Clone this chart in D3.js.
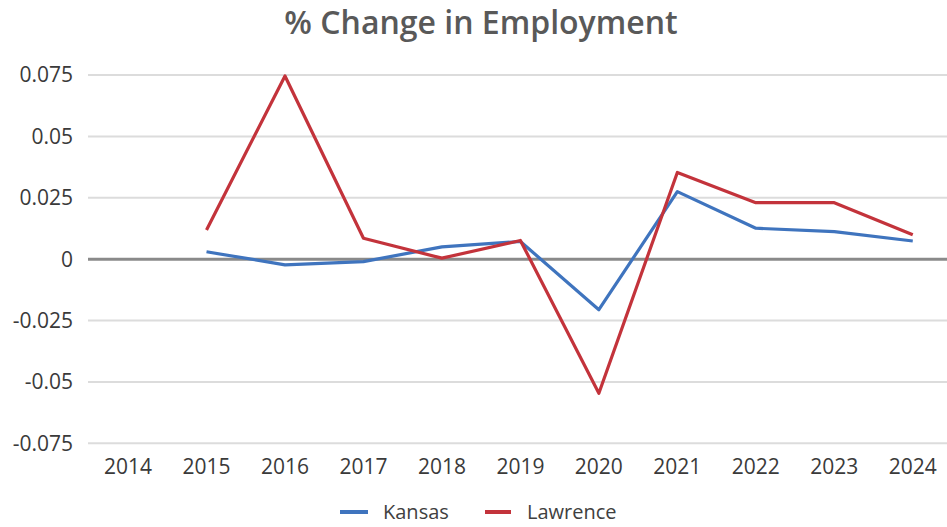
<!DOCTYPE html>
<html><head><meta charset="utf-8">
<script src="https://cdn.jsdelivr.net/npm/d3@7"></script>
<style>body{margin:0;background:#fff;}svg{display:block;font-family:"Open Sans",sans-serif;}</style>
</head><body><svg id="c" width="947" height="527"></svg>
<script>
const years = ["2014","2015","2016","2017","2018","2019","2020","2021","2022","2023","2024"];
const kansas = [null,0.003,-0.0023,-0.001,0.005,0.0072,-0.0206,0.0275,0.0126,0.0112,0.0074];
const lawrence = [null,0.0119,0.0746,0.0085,0.0004,0.0076,-0.0546,0.0353,0.023,0.023,0.0099];
const yTicks = [0.075,0.05,0.025,0,-0.025,-0.05,-0.075];
const yTickLabels = ["0.075","0.05","0.025","0","-0.025","-0.05","-0.075"];
const seriesNames = ["Kansas","Lawrence"];
const seriesColors = ["#3f74be","#c3333b"];

const svg = d3.select("#c");
const x = d3.scaleBand().domain(years).range([88.8, 952]);
const y = d3.scaleLinear().domain([-0.075,0.075]).range([443.3, 75]);

// gridlines
svg.append("g").selectAll("line").data(yTicks.filter(d=>d!==0)).join("line")
  .attr("x1",88).attr("x2",947).attr("y1",d=>y(d)).attr("y2",d=>y(d))
  .attr("stroke","#dcdcdc").attr("stroke-width",2);
svg.append("line").attr("x1",88).attr("x2",947).attr("y1",y(0)).attr("y2",y(0))
  .attr("stroke","#8a8a8a").attr("stroke-width",3);

// y labels
svg.append("g").selectAll("text").data(yTicks).join("text")
  .attr("x",73).attr("y",d=>y(d)).attr("dy","0.35em").attr("text-anchor","end")
  .attr("font-size",21).attr("font-weight",500).attr("fill","#3a3a3a").text((d,i)=>yTickLabels[i]);

// x labels
svg.append("g").selectAll("text").data(years).join("text")
  .attr("x",d=>x(d)+x.bandwidth()/2).attr("y",467).attr("dy","0.35em").attr("text-anchor","middle")
  .attr("font-size",21).attr("font-weight",500).attr("fill","#3a3a3a").text(d=>d);

const line = d3.line().defined(d=>d.v!==null).x(d=>x(d.yr)+x.bandwidth()/2).y(d=>y(d.v));
[kansas,lawrence].forEach((s,i)=>{
  svg.append("path").datum(years.map((yr,j)=>({yr,v:s[j]})))
    .attr("d",line).attr("fill","none").attr("stroke",seriesColors[i])
    .attr("stroke-width",3.2).attr("stroke-linejoin","round");
});

// title
svg.append("text").attr("x",481).attr("y",34).attr("text-anchor","middle")
  .attr("font-size",32).attr("font-weight",600).attr("fill","#595959").text("% Change in Employment");

// legend
const leg = [{x1:340,x2:368,tx:383},{x1:485,x2:511,tx:527}];
leg.forEach((l,i)=>{
  svg.append("line").attr("x1",l.x1).attr("x2",l.x2).attr("y1",512).attr("y2",512)
    .attr("stroke",seriesColors[i]).attr("stroke-width",4);
  svg.append("text").attr("x",l.tx).attr("y",512).attr("dy","0.35em")
    .attr("font-size",20).attr("font-weight",500).attr("fill","#404040").text(seriesNames[i]);
});
</script></body></html>
